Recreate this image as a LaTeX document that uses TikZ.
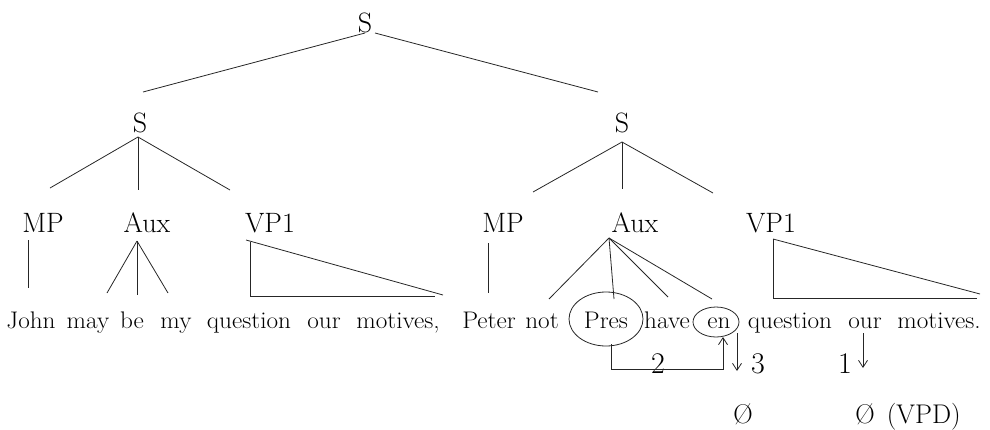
\documentclass[tikz,border=0pt]{standalone}
\usepackage{fontspec}
\usetikzlibrary{arrows.meta,shapes.geometric}
\newcommand\wstretch[1]{\scalebox{1.05}[1]{#1}}
\tikzset{
  lab/.style={anchor=base,inner sep=0pt,font=\fontsize{28}{32}\selectfont},
  wrd/.style={anchor=base,inner sep=0pt,font=\fontsize{24}{28}\selectfont},
  num/.style={anchor=base,inner sep=0pt,font=\fontsize{30}{34}\selectfont},
  nul/.style={anchor=base,inner sep=0pt,font=\fontsize{27}{30}\selectfont},
  edge/.style={draw=black!85,line width=0.8pt},
  circ/.style={draw=black!85,line width=0.8pt,ellipse,inner sep=0pt},
  arr/.style={edge,-{Straight Barb[length=7pt,width=9pt]}}
}
\begin{document}
\begin{tikzpicture}[x=1pt,y=-1pt]
\useasboundingbox (0,0) rectangle (990,429);
% labels
\node[lab] (S0) at (365,32) {S};
\node[lab] (SL) at (140,132) {S};
\node[lab] (SR) at (622,132) {S};
\node[lab] (MPL) at (43,232) {MP};
\node[lab] (AuxL) at (147,232) {Aux};
\node[lab] (VPL) at (270,232) {VP1};
\node[lab] (MPR) at (503,232) {MP};
\node[lab] (AuxR) at (635,232) {Aux};
\node[lab] (VPR) at (771,232) {VP1};
% sentence
\node[wrd] (w1) at (31,328) {\wstretch{John}};
\node[wrd] (w2) at (88,328) {\wstretch{may}};
\node[wrd] (w3) at (132,328) {\wstretch{be}};
\node[wrd] (w4) at (176,328) {\wstretch{my}};
\node[wrd] (w5) at (249,328) {\wstretch{question}};
\node[wrd] (w6) at (324,328) {\wstretch{our}};
\node[wrd] (w7) at (398,328) {\wstretch{motives,}};
\node[wrd] (w8) at (489,328) {\wstretch{Peter}};
\node[wrd] (w9) at (542,328) {\wstretch{not}};
\node[wrd] (w10) at (606,328) {\wstretch{Pres}};
\node[wrd] (w11) at (667,328) {\wstretch{have}};
\node[wrd] (w12) at (719,328) {\wstretch{en}};
\node[wrd] (w13) at (790,328) {\wstretch{question}};
\node[wrd] (w14) at (865,328) {\wstretch{our}};
\node[wrd] (w15) at (939,328) {\wstretch{motives.}};
% circles
\node[circ,minimum width=74pt,minimum height=54pt] (presE) at (606,319) {};
\node[circ,minimum width=46pt,minimum height=30pt] (enE) at (716,322) {};
% numbers and nulls
\node[num] (n2) at (658,373) {2};
\node[num] (n3) at (758,373) {3};
\node[num] (n1) at (845,373) {1};
\node[nul] (z1) at (743,423) {Ø};
\node[nul] (z2) at (908,423) {Ø\hspace{12pt}(VPD)};
% tree coordinates
\coordinate (a0l) at (365,33); \coordinate (a0r) at (375,33);
\coordinate (eSL) at (143,92); \coordinate (eSR) at (598,92);
\coordinate (aL) at (138,137);
\coordinate (aL1) at (50,188); \coordinate (aL2) at (138,190); \coordinate (aL3) at (230,190);
\coordinate (aR) at (622,142);
\coordinate (aR1) at (533,192); \coordinate (aR2) at (622,189); \coordinate (aR3) at (713,193);
\coordinate (mpLt) at (28,240); \coordinate (mpLb) at (28,288);
\coordinate (axL) at (137,241);
\coordinate (axL1) at (107,293); \coordinate (axL2) at (137,295); \coordinate (axL3) at (168,293);
\coordinate (vLt) at (250,242); \coordinate (vLs) at (246,240); \coordinate (vLb) at (250,296);
\coordinate (vLe) at (443,295); \coordinate (vLf) at (435,296);
\coordinate (mpRt) at (488,243); \coordinate (mpRb) at (488,293);
\coordinate (axR) at (609,238);
\coordinate (axR1) at (549,299); \coordinate (axR2) at (614,299);
\coordinate (axR3) at (668,297); \coordinate (axR4) at (712,299);
\coordinate (vRt) at (773,239); \coordinate (vRb) at (773,298);
\coordinate (vRe) at (980,294); \coordinate (vRf) at (977,298);
% movement coordinates
\coordinate (p0) at (611,344); \coordinate (p1) at (611,369);
\coordinate (p2) at (723,369); \coordinate (p3) at (723,337);
\coordinate (d3a) at (737,333); \coordinate (d3b) at (737,371);
\coordinate (d1a) at (863,333); \coordinate (d1b) at (863,368);
% tree edges
\draw[edge] (a0l) -- (eSL);
\draw[edge] (a0r) -- (eSR);
\draw[edge] (aL) -- (aL1); \draw[edge] (aL) -- (aL2); \draw[edge] (aL) -- (aL3);
\draw[edge] (aR) -- (aR1); \draw[edge] (aR) -- (aR2); \draw[edge] (aR) -- (aR3);
\draw[edge] (mpLt) -- (mpLb);
\draw[edge] (axL) -- (axL1); \draw[edge] (axL) -- (axL2); \draw[edge] (axL) -- (axL3);
\draw[edge] (vLt) -- (vLb) -- (vLf);
\draw[edge] (vLs) -- (vLe);
\draw[edge] (mpRt) -- (mpRb);
\draw[edge] (axR) -- (axR1); \draw[edge] (axR) -- (axR2);
\draw[edge] (axR) -- (axR3); \draw[edge] (axR) -- (axR4);
\draw[edge] (vRt) -- (vRb) -- (vRf);
\draw[edge] (vRt) -- (vRe);
% movement arrows
\draw[arr] (p0) -- (p1) -- (p2) -- (p3);
\draw[arr] (d3a) -- (d3b);
\draw[arr] (d1a) -- (d1b);
\end{tikzpicture}
\end{document}
